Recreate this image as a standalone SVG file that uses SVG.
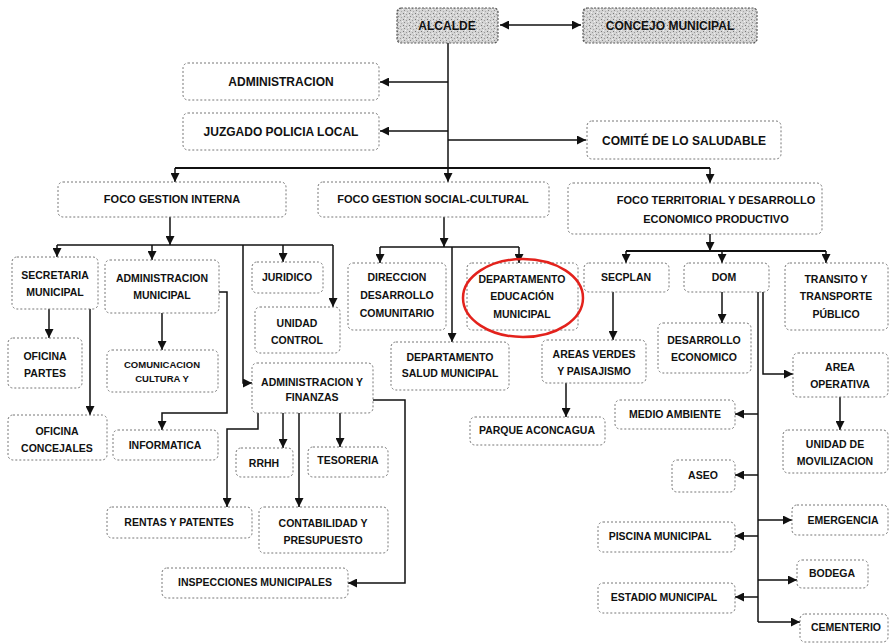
<svg xmlns="http://www.w3.org/2000/svg" width="890" height="643" viewBox="0 0 890 643">
<defs>
<marker id="arr" markerUnits="userSpaceOnUse" markerWidth="9" markerHeight="9" refX="9" refY="4.5" orient="auto-start-reverse">
<path d="M0,0 L9,4.5 L0,9 z" fill="#111"/>
</marker>
<pattern id="speck" width="6" height="6" patternUnits="userSpaceOnUse">
<rect width="6" height="6" fill="#d4d4d4"/>
<rect x="1" y="1" width="1" height="1" fill="#777"/>
<rect x="4" y="2" width="1" height="1" fill="#999"/>
<rect x="2" y="4" width="1" height="1" fill="#888"/>
<rect x="5" y="5" width="1" height="1" fill="#aaa"/>
<rect x="0" y="3" width="1" height="1" fill="#f2f2f2"/>
<rect x="3" y="0" width="1" height="1" fill="#f2f2f2"/>
</pattern>
</defs>
<style>
.b{fill:#fff;stroke:#777;stroke-width:1;stroke-dasharray:2 2}
.g{fill:url(#speck);stroke:#555;stroke-width:1.2;stroke-dasharray:2 1.5}
text{font-family:"Liberation Sans",Arial,sans-serif;font-weight:bold;fill:#111;text-anchor:middle;font-size:10.5px}
.t1{font-size:12px}
.t2{font-size:11px}
.t3{font-size:9.5px}
.c path,.c line,.c polyline{fill:none;stroke:#111;stroke-width:1.5}
.c .a{marker-end:url(#arr)}
</style>
<rect width="890" height="643" fill="#fff"/>

<g class="c" id="connectors">
<line x1="500" y1="25" x2="581" y2="25" class="a" marker-start="url(#arr)"/>
<line x1="448" y1="43" x2="448" y2="168"/>
<line x1="448" y1="82" x2="380" y2="82" class="a"/>
<line x1="448" y1="131" x2="380" y2="131" class="a"/>
<line x1="448" y1="140" x2="586" y2="140" class="a"/>
<line x1="175" y1="168" x2="710" y2="168" style="stroke-width:2"/>
<line x1="175" y1="168" x2="175" y2="182" class="a"/>
<line x1="448" y1="168" x2="448" y2="182" class="a"/>
<line x1="710" y1="168" x2="710" y2="183" class="a"/>

<line x1="170" y1="217" x2="170" y2="245" class="a"/>
<line x1="57" y1="245" x2="333" y2="245"/>
<line x1="57" y1="245" x2="57" y2="257" class="a"/>
<line x1="152" y1="245" x2="152" y2="260" class="a"/>
<line x1="283" y1="245" x2="283" y2="262" class="a"/>
<line x1="333" y1="245" x2="333" y2="307" class="a"/>
<polyline points="243,245 243,383 252,383" class="a"/>
<line x1="49" y1="309" x2="49" y2="338" class="a"/>
<line x1="90" y1="309" x2="90" y2="415" class="a"/>
<line x1="162" y1="313" x2="162" y2="350" class="a"/>
<polyline points="219,292 227,292 227,413 162,413 162,430" class="a"/>
<polyline points="258,413 258,429 227,429 227,507" class="a"/>
<line x1="283" y1="413" x2="283" y2="448" class="a"/>
<line x1="299" y1="413" x2="299" y2="507" class="a"/>
<line x1="340" y1="413" x2="340" y2="447" class="a"/>
<polyline points="373,400 405,400 405,583 348,583" class="a"/>

<line x1="444" y1="217" x2="444" y2="247" class="a"/>
<line x1="380" y1="247" x2="519" y2="247"/>
<line x1="380" y1="247" x2="380" y2="263" class="a"/>
<line x1="519" y1="247" x2="519" y2="263" class="a"/>
<line x1="452" y1="247" x2="452" y2="342" class="a"/>

<line x1="710" y1="234" x2="710" y2="251" class="a"/>
<line x1="626" y1="251" x2="826" y2="251" style="stroke-width:2.2"/>
<line x1="626" y1="251" x2="626" y2="263" class="a"/>
<line x1="722" y1="251" x2="722" y2="263" class="a"/>
<line x1="826" y1="251" x2="826" y2="263" class="a"/>
<line x1="613" y1="292" x2="613" y2="340" class="a"/>
<line x1="722" y1="292" x2="722" y2="323" class="a"/>
<line x1="566" y1="383" x2="566" y2="417" class="a"/>
<polyline points="763,292 763,374 793,374" class="a"/>
<line x1="758" y1="292" x2="758" y2="622"/>
<line x1="758" y1="414" x2="735" y2="414" class="a"/>
<line x1="758" y1="475" x2="735" y2="475" class="a"/>
<line x1="758" y1="520" x2="792" y2="520" class="a"/>
<line x1="758" y1="536" x2="735" y2="536" class="a"/>
<line x1="758" y1="580" x2="797" y2="580" class="a"/>
<line x1="758" y1="597" x2="735" y2="597" class="a"/>
<line x1="758" y1="622" x2="800" y2="622" class="a"/>
<line x1="840" y1="397" x2="840" y2="430" class="a"/>
</g>

<g id="alcalde"><rect class="g" x="397" y="8" width="101" height="35" rx="4"/><text class="t1" x="447" y="30">ALCALDE</text></g>
<g id="concejo"><rect class="g" x="583" y="8" width="174" height="35" rx="4"/><text class="t1" x="670" y="30">CONCEJO MUNICIPAL</text></g>
<g id="administracion"><rect class="b" x="183" y="63" width="196" height="37" rx="5"/><text class="t1" x="281" y="86">ADMINISTRACION</text></g>
<g id="juzgado"><rect class="b" x="183" y="113" width="196" height="37" rx="5"/><text class="t1" x="281" y="136">JUZGADO POLICIA LOCAL</text></g>
<g id="comite"><rect class="b" x="587" y="121" width="194" height="38" rx="5"/><text class="t1" x="684" y="145">COMITÉ DE LO SALUDABLE</text></g>

<g id="foco-interna"><rect class="b" x="58" y="182" width="228" height="35" rx="5"/><text class="t2" x="172" y="203">FOCO GESTION INTERNA</text></g>
<g id="foco-social"><rect class="b" x="318" y="182" width="231" height="35" rx="5"/><text class="t2" x="433" y="203">FOCO GESTION SOCIAL-CULTURAL</text></g>
<g id="foco-territorial"><rect class="b" x="568" y="183" width="254" height="51" rx="5"/><text class="t2" x="716" y="204">FOCO TERRITORIAL Y DESARROLLO</text><text class="t2" x="716" y="223">ECONOMICO PRODUCTIVO</text></g>

<g id="secretaria"><rect class="b" x="12" y="257" width="86" height="52" rx="5"/><text x="55" y="279">SECRETARIA</text><text x="55" y="296">MUNICIPAL</text></g>
<g id="admin-municipal"><rect class="b" x="105" y="260" width="114" height="53" rx="5"/><text x="162" y="282">ADMINISTRACION</text><text x="162" y="299">MUNICIPAL</text></g>
<g id="juridico"><rect class="b" x="252" y="262" width="71" height="31" rx="5"/><text x="287" y="281">JURIDICO</text></g>
<g id="unidad-control"><rect class="b" x="255" y="307" width="85" height="46" rx="5"/><text x="297" y="327">UNIDAD</text><text x="297" y="344">CONTROL</text></g>
<g id="oficina-partes"><rect class="b" x="8" y="338" width="74" height="50" rx="5"/><text x="45" y="360">OFICINA</text><text x="45" y="377">PARTES</text></g>
<g id="comunicacion"><rect class="b" x="107" y="350" width="111" height="42" rx="5"/><text class="t3" x="162" y="368">COMUNICACION</text><text class="t3" x="162" y="382">CULTURA Y</text></g>
<g id="admin-finanzas"><rect class="b" x="252" y="363" width="121" height="50" rx="5"/><text x="312" y="386">ADMINISTRACION Y</text><text x="312" y="401">FINANZAS</text></g>
<g id="oficina-concejales"><rect class="b" x="8" y="415" width="99" height="45" rx="5"/><text x="57" y="435">OFICINA</text><text x="57" y="452">CONCEJALES</text></g>
<g id="informatica"><rect class="b" x="113" y="430" width="105" height="30" rx="5"/><text x="165" y="449">INFORMATICA</text></g>
<g id="rrhh"><rect class="b" x="236" y="448" width="57" height="29" rx="5"/><text x="264" y="467">RRHH</text></g>
<g id="tesoreria"><rect class="b" x="308" y="447" width="80" height="30" rx="5"/><text x="348" y="464">TESORERIA</text></g>
<g id="rentas"><rect class="b" x="107" y="507" width="145" height="31" rx="5"/><text x="179" y="526">RENTAS Y PATENTES</text></g>
<g id="contabilidad"><rect class="b" x="259" y="507" width="129" height="46" rx="5"/><text x="323" y="527">CONTABILIDAD Y</text><text x="323" y="544">PRESUPUESTO</text></g>
<g id="inspecciones"><rect class="b" x="162" y="568" width="186" height="30" rx="5"/><text x="255" y="586">INSPECCIONES MUNICIPALES</text></g>

<g id="direccion"><rect class="b" x="348" y="263" width="98" height="67" rx="5"/><text x="397" y="281">DIRECCION</text><text x="397" y="299">DESARROLLO</text><text x="397" y="317">COMUNITARIO</text></g>
<g id="depto-educacion"><rect class="b" x="467" y="263" width="111" height="67" rx="5"/><text x="522" y="283">DEPARTAMENTO</text><text x="522" y="300">EDUCACIÓN</text><text x="522" y="318">MUNICIPAL</text><ellipse cx="523" cy="298" rx="60" ry="39" fill="none" stroke="#e3221c" stroke-width="2.5"/></g>
<g id="depto-salud"><rect class="b" x="391" y="342" width="118" height="48" rx="5"/><text x="450" y="361">DEPARTAMENTO</text><text x="450" y="377">SALUD MUNICIPAL</text></g>

<g id="secplan"><rect class="b" x="584" y="263" width="85" height="29" rx="5"/><text x="626" y="281">SECPLAN</text></g>
<g id="dom"><rect class="b" x="684" y="263" width="85" height="29" rx="5"/><text x="724" y="281">DOM</text></g>
<g id="transito"><rect class="b" x="785" y="263" width="103" height="67" rx="5"/><text x="836" y="283">TRANSITO Y</text><text x="836" y="300">TRANSPORTE</text><text x="836" y="318">PÚBLICO</text></g>
<g id="areas-verdes"><rect class="b" x="542" y="340" width="104" height="43" rx="5"/><text x="594" y="358">AREAS VERDES</text><text x="594" y="375">Y PAISAJISMO</text></g>
<g id="desarrollo-economico"><rect class="b" x="658" y="323" width="93" height="50" rx="5"/><text x="704" y="344">DESARROLLO</text><text x="704" y="361">ECONOMICO</text></g>
<g id="parque"><rect class="b" x="470" y="417" width="135" height="28" rx="5"/><text x="537" y="434">PARQUE ACONCAGUA</text></g>
<g id="area-operativa"><rect class="b" x="793" y="353" width="95" height="44" rx="5"/><text x="840" y="371">AREA</text><text x="840" y="388">OPERATIVA</text></g>
<g id="unidad-movilizacion"><rect class="b" x="783" y="430" width="105" height="43" rx="5"/><text x="835" y="448">UNIDAD DE</text><text x="835" y="465">MOVILIZACION</text></g>
<g id="medio-ambiente"><rect class="b" x="615" y="400" width="120" height="29" rx="5"/><text x="675" y="418">MEDIO AMBIENTE</text></g>
<g id="aseo"><rect class="b" x="672" y="460" width="63" height="32" rx="5"/><text x="703" y="479">ASEO</text></g>
<g id="emergencia"><rect class="b" x="792" y="505" width="96" height="30" rx="5"/><text x="843" y="524">EMERGENCIA</text></g>
<g id="piscina"><rect class="b" x="598" y="522" width="137" height="30" rx="5"/><text x="660" y="540">PISCINA MUNICIPAL</text></g>
<g id="bodega"><rect class="b" x="797" y="560" width="71" height="28" rx="5"/><text x="832" y="577">BODEGA</text></g>
<g id="estadio"><rect class="b" x="598" y="583" width="137" height="30" rx="5"/><text x="664" y="601">ESTADIO MUNICIPAL</text></g>
<g id="cementerio"><rect class="b" x="800" y="614" width="88" height="28" rx="5"/><text x="846" y="631">CEMENTERIO</text></g>
</svg>
